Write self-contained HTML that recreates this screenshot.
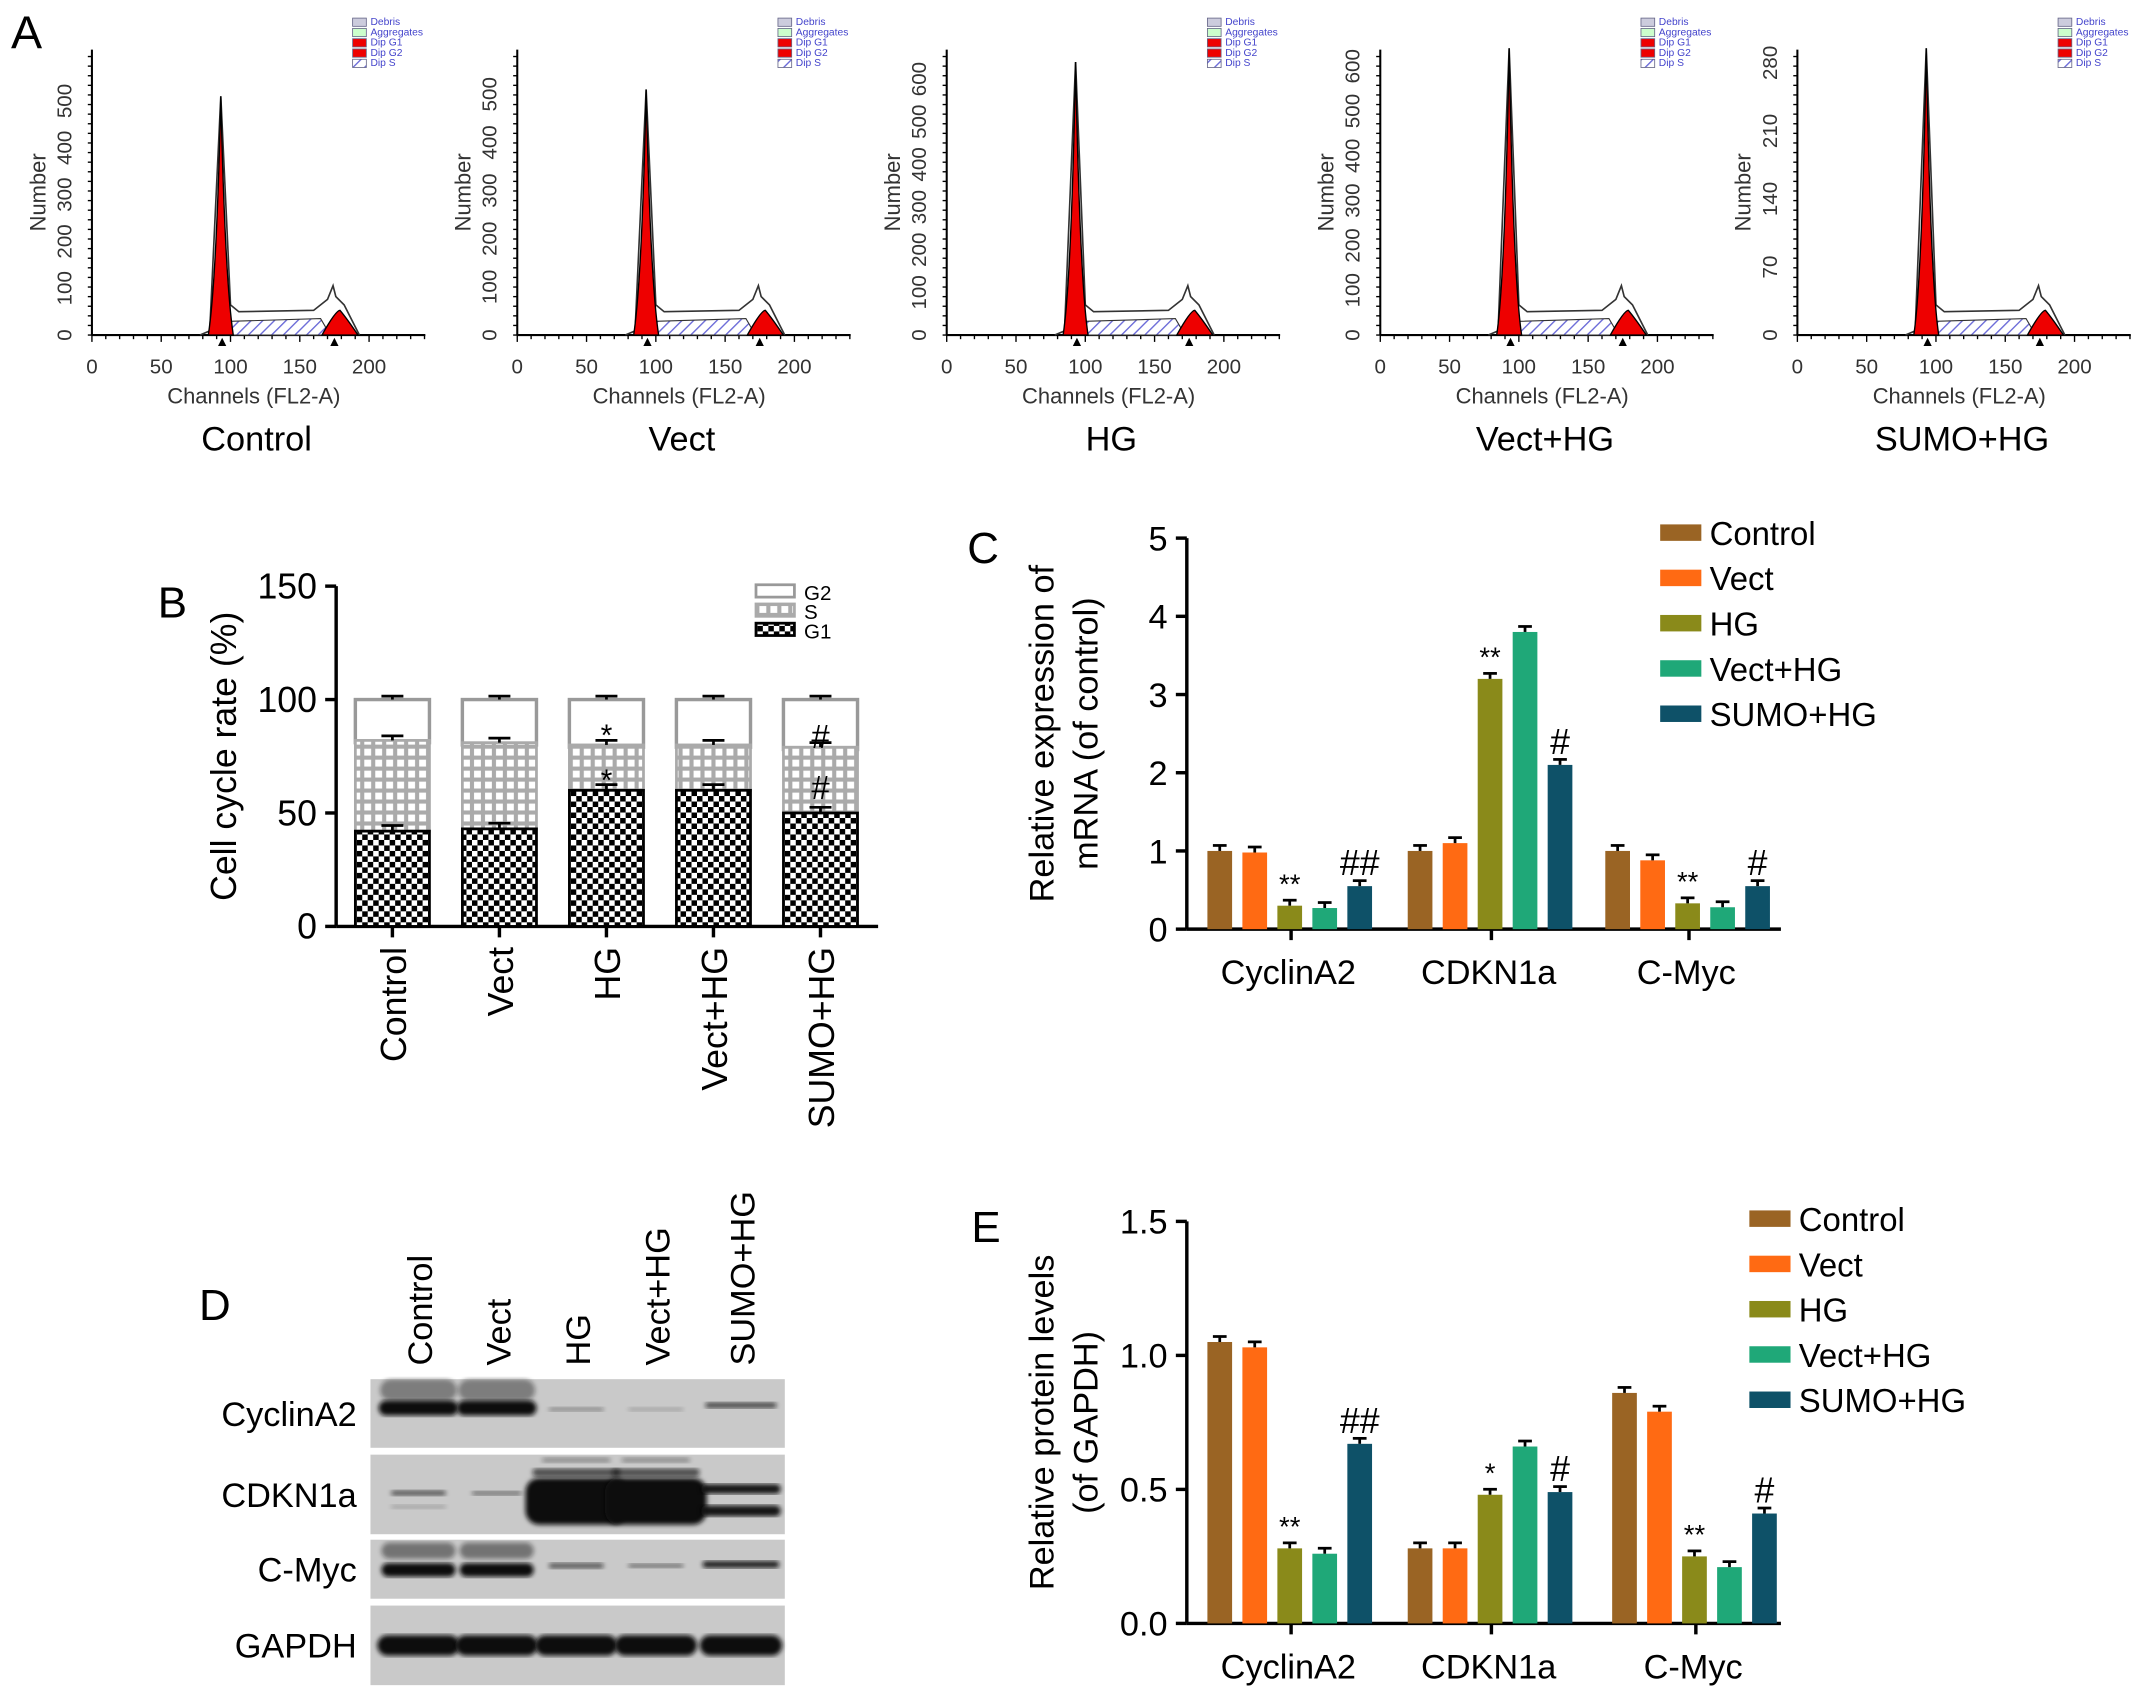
<!DOCTYPE html>
<html><head><meta charset="utf-8"><style>body{margin:0;background:#fff}svg{display:block}text{font-family:"Liberation Sans",Arial,sans-serif}</style></head>
<body>
<svg id="s" width="2150" height="1706" viewBox="0 0 1567 1243" xmlns="http://www.w3.org/2000/svg">
<defs>
<pattern id="hatch" width="6" height="6" patternUnits="userSpaceOnUse" patternTransform="rotate(45)"><rect width="6" height="6" fill="#fff"/><line x1="0" y1="0" x2="0" y2="6" stroke="#6a6ad8" stroke-width="2"/></pattern>
<pattern id="chk" width="8" height="8" patternUnits="userSpaceOnUse"><rect width="8" height="8" fill="#fff"/><rect width="4" height="4" fill="#000"/><rect x="4" y="4" width="4" height="4" fill="#000"/></pattern>
<pattern id="grid" width="8" height="8" patternUnits="userSpaceOnUse"><rect width="8" height="8" fill="#fff"/><rect width="8" height="8" fill="none" stroke="#aaa" stroke-width="3"/></pattern>
<filter id="bl"><feGaussianBlur stdDeviation="1.8"/></filter>
</defs>
<text x="8" y="35" font-size="34">A</text>
<text x="115" y="450" font-size="32">B</text>
<text x="705" y="410" font-size="32">C</text>
<text x="145" y="962" font-size="32">D</text>
<text x="708" y="905" font-size="32">E</text>
<g id="g"></g>
</svg>
<script>
const g=document.getElementById('g');let h='';
const C=['#9a6424','#ff6a13','#8a8a1a','#1fa878','#0e5168'];
const N=['Control','Vect','HG','Vect+HG','SUMO+HG'];
const ax=[67,377,690,1006,1310];
const tops=[70,65,45,35,35];
const yt=[[0,100,200,300,400,500],[0,100,200,300,400,500],[0,100,200,300,400,500,600],[0,100,200,300,400,500,600],[0,70,140,210,280]];
const ymax=[500,500,600,600,280];
for(let i=0;i<5;i++){const x0=ax[i],b=244,sx=1.01;const px=c=>x0+c*sx;
 const pk=tops[i];
 h+=`<line x1="${x0}" y1="${b}" x2="${x0+243}" y2="${b}" stroke="#000" stroke-width="1.5"/><line x1="${x0}" y1="36" x2="${x0}" y2="${b}" stroke="#000" stroke-width="1.5"/>`;
 for(let c=0;c<=240;c+=10)h+=`<line x1="${px(c)}" y1="${b}" x2="${px(c)}" y2="${b+(c%50?3:5)}" stroke="#000"/>`;
 for(let y=b;y>40;y-=7)h+=`<line x1="${x0-3}" y1="${y}" x2="${x0}" y2="${y}" stroke="#000"/>`;
 [0,50,100,150,200].forEach(c=>h+=`<text x="${px(c)}" y="${b+28}" font-size="15" text-anchor="middle" fill="#333">${c}</text>`);
 yt[i].forEach(v=>{const y=b-v*(b-pk)/ymax[i]*(ymax[i]/(ymax[i]+ (i<2?10:(i==4?15:40))));h+=`<text transform="translate(${x0-15},${y}) rotate(-90)" font-size="15" text-anchor="middle" fill="#333">${v}</text>`});
 h+=`<text transform="translate(${x0-34},140) rotate(-90)" font-size="16" text-anchor="middle" fill="#333">Number</text>`;
 h+=`<text x="${x0+118}" y="${b+50}" font-size="16" text-anchor="middle" fill="#333">Channels (FL2-A)</text>`;
 h+=`<text x="${x0+120}" y="${b+84}" font-size="25" text-anchor="middle">${N[i]}</text>`;
 h+=`<path d="M${px(96)} ${b} L${px(100)} ${b-10} L${px(165)} ${b-12} L${px(172)} ${b} Z" fill="url(#hatch)" stroke="#333" stroke-width="0.8"/>`;
 h+=`<path d="M${px(78)} ${b} L${px(85)} ${b-3} L${px(93)} ${pk} L${px(100)} ${b-22} L${px(106)} ${b-17} L${px(160)} ${b-18} L${px(170)} ${b-26} L${px(174)} ${b-36} L${px(176)} ${b-28} L${px(182)} ${b-22} L${px(193)} ${b}" fill="none" stroke="#333" stroke-width="1.2"/>`;
 h+=`<path d="M${px(84)} ${b} Q${px(90)} ${b-40} ${px(93)} ${pk} Q${px(96)} ${b-40} ${px(102)} ${b} Z" fill="#e00" stroke="#000" stroke-width="1"/>`;
 h+=`<path d="M${px(166)} ${b} Q${px(176)} ${b-18} ${px(179)} ${b-18} Q${px(184)} ${b-12} ${px(192)} ${b} Z" fill="#e00" stroke="#000" stroke-width="1"/>`;
 h+=`<path d="M${px(91)} ${b+8} l3 -6 l3 6Z M${px(172)} ${b+8} l3 -6 l3 6Z" fill="#000"/>`;
 const lx=x0+190,ly=18;
 ['Debris','Aggregates','Dip G1','Dip G2','Dip S'].forEach((t,k)=>{const f=['#ccd','#cfc','#e00','#e00','url(#hatch)'][k];
 h+=`<rect x="${lx}" y="${ly+k*7.5-5}" width="10" height="6" fill="${f}" stroke="#668" stroke-width=".6"/><text x="${lx+13}" y="${ly+k*7.5}" font-size="7.5" fill="#44c">${t}</text>`});
}
{const x0=245,b=675,u=248/150;const Y=v=>b-v*u;
 h+=`<line x1="${x0}" y1="${Y(150)}" x2="${x0}" y2="${b}" stroke="#000" stroke-width="2.5"/><line x1="${x0}" y1="${b}" x2="640" y2="${b}" stroke="#000" stroke-width="2.5"/>`;
 [0,50,100,150].forEach(v=>h+=`<line x1="${x0-8}" y1="${Y(v)}" x2="${x0}" y2="${Y(v)}" stroke="#000" stroke-width="2.5"/><text x="${x0-14}" y="${Y(v)+9}" font-size="26" text-anchor="end">${v}</text>`);
 h+=`<text transform="translate(172,551) rotate(-90)" font-size="26" text-anchor="middle">Cell cycle rate (%)</text>`;
 const g1=[42,43,60,60,50],s=[82,81,80,80,79],cx=[286,364,442,520,598];
 for(let i=0;i<5;i++){const x=cx[i]-27,w=54;
  h+=`<rect x="${x}" y="${Y(100)}" width="${w}" height="${Y(s[i]-1)-Y(100)}" fill="#fff" stroke="#999" stroke-width="2.5"/>`;
  h+=`<rect x="${x}" y="${Y(s[i])}" width="${w}" height="${Y(g1[i])-Y(s[i])}" fill="url(#grid)" stroke="#aaa" stroke-width="2"/>`;
  h+=`<rect x="${x}" y="${Y(g1[i])}" width="${w}" height="${b-Y(g1[i])}" fill="url(#chk)" stroke="#000" stroke-width="2"/>`;
  [[100,1.5],[s[i],2],[g1[i],2.5]].forEach(([v,e])=>h+=`<line x1="${cx[i]-8}" y1="${Y(v+e)}" x2="${cx[i]+8}" y2="${Y(v+e)}" stroke="#000" stroke-width="2"/><line x1="${cx[i]}" y1="${Y(v+e)}" x2="${cx[i]}" y2="${Y(v)}" stroke="#000" stroke-width="2"/>`);
  h+=`<line x1="${cx[i]}" y1="${b}" x2="${cx[i]}" y2="${b+8}" stroke="#000" stroke-width="2.5"/>`;
  h+=`<text transform="translate(${cx[i]+10},690) rotate(-90)" font-size="26" text-anchor="end">${N[i]}</text>`;}
 h+=`<text x="442" y="543" font-size="22" text-anchor="middle">*</text><text x="442" y="576" font-size="22" text-anchor="middle">*</text>`;
 h+=`<text x="598" y="545" font-size="24" text-anchor="middle">#</text><text x="598" y="582" font-size="24" text-anchor="middle">#</text>`;
 [['G2','#fff','#999'],['S','url(#grid)','#aaa'],['G1','url(#chk)','#000']].forEach(([t,f,st],k)=>h+=`<rect x="551" y="${426+k*14}" width="28" height="9" fill="${f}" stroke="${st}" stroke-width="2"/><text x="586" y="${437+k*14}" font-size="15">${t}</text>`);
}
function bars(x0,b,top,max,step,ylab1,ylab2,fmt,vals,gx,ann,leg){const u=(b-top)/max;const Y=v=>b-v*u;
 h+=`<line x1="${x0}" y1="${top}" x2="${x0}" y2="${b}" stroke="#000" stroke-width="2.5"/><line x1="${x0}" y1="${b}" x2="1298" y2="${b}" stroke="#000" stroke-width="2.5"/>`;
 for(let v=0;v<=max+1e-9;v+=step)h+=`<line x1="${x0-8}" y1="${Y(v)}" x2="${x0}" y2="${Y(v)}" stroke="#000" stroke-width="2.5"/><text x="${x0-14}" y="${Y(v)+9}" font-size="25" text-anchor="end">${fmt(v)}</text>`;
 h+=`<text transform="translate(768,${(top+b)/2}) rotate(-90)" font-size="25" text-anchor="middle">${ylab1}</text><text transform="translate(800,${(top+b)/2}) rotate(-90)" font-size="25" text-anchor="middle">${ylab2}</text>`;
 ['CyclinA2','CDKN1a','C-Myc'].forEach((t,gi)=>{const c0=gx[gi];
  h+=`<line x1="${c0+52}" y1="${b}" x2="${c0+52}" y2="${b+8}" stroke="#000" stroke-width="2.5"/><text x="${c0+50}" y="${b+40}" font-size="25" text-anchor="middle">${t}</text>`;
  for(let i=0;i<5;i++){const v=vals[gi][i],x=c0+i*25.5;h+=`<rect x="${x-9}" y="${Y(v)}" width="18" height="${b-Y(v)}" fill="${C[i]}"/><line x1="${x-5}" y1="${Y(v)-4}" x2="${x+5}" y2="${Y(v)-4}" stroke="#000" stroke-width="2"/><line x1="${x}" y1="${Y(v)-4}" x2="${x}" y2="${Y(v)}" stroke="#000" stroke-width="2"/>`;
   const a=ann[gi][i];if(a)h+=`<text x="${x}" y="${Y(v)-(a[0]=='*'?9:8)}" font-size="${a[0]=='*'?20:26}" text-anchor="middle">${a}</text>`;}});
 N.forEach((t,i)=>h+=`<rect x="${leg[0]}" y="${leg[1]+i*33-6}" width="30" height="12" fill="${C[i]}"/><text x="${leg[0]+36}" y="${leg[1]+i*33+9}" font-size="24">${t}</text>`);
}
bars(865,677,392,5,1,'Relative expression of','mRNA (of control)',v=>v,[[1,.98,.3,.27,.55],[1,1.1,3.2,3.8,2.1],[1,.88,.33,.28,.55]],[889,1035,1179],[['','','**','','##'],['','','**','','#'],['','','**','','#']],[1210,388]);
bars(865,1183,890,1.5,0.5,'Relative protein levels','(of GAPDH)',v=>v.toFixed(1),[[1.05,1.03,.28,.26,.67],[.28,.28,.48,.66,.49],[.86,.79,.25,.21,.41]],[889,1035,1184],[['','','**','','##'],['','','*','','#'],['','','**','','#']],[1275,888]);
{const lx=[305,362,420,478,540];
 N.forEach((t,i)=>h+=`<text transform="translate(${lx[i]+10},995) rotate(-90)" font-size="25">${t}</text>`);
 const rows=[['CyclinA2',1005,1055],['CDKN1a',1060,1118],['C-Myc',1122,1165],['GAPDH',1170,1228]];
 rows.forEach(([t,y0,y1])=>{h+=`<rect x="270" y="${y0}" width="302" height="${y1-y0}" fill="#c9c9c9"/><text x="260" y="${(y0+y1)/2+9}" font-size="25" text-anchor="end">${t}</text>`});
 const band=(cx,cy,w,hh,o)=>h+=`<rect x="${cx-w/2}" y="${cy-hh/2}" width="${w}" height="${hh}" rx="${Math.min(hh/2,10)}" fill="#111" opacity="${o}" filter="url(#bl)"/>`;
 band(305,1026,58,11,1);band(362,1026,58,11,1);band(420,1027,40,3,.35);band(478,1027,40,3,.2);band(540,1024,52,4,.7);
 [[305,1013],[362,1013]].forEach(([x,y])=>band(x,y,56,16,.4));
 band(305,1088,40,4,.6);band(362,1088,36,3,.5);band(305,1098,40,3,.2);
 band(420,1094,74,34,1);band(478,1094,74,34,1);band(420,1073,64,6,.65);band(478,1073,64,6,.65);band(420,1064,50,4,.3);band(478,1064,50,4,.3);
 band(540,1085,58,7,.95);band(540,1101,58,8,.95);
 band(305,1144,54,10,1);band(362,1144,54,10,1);band(305,1130,54,12,.45);band(362,1130,54,12,.45);
 band(420,1141,40,4,.6);band(478,1141,40,3,.5);band(540,1140,56,5,.9);
 lx.forEach(x=>band(x,1199,60,15,1));
}
g.innerHTML=h;
</script>
</body></html>
